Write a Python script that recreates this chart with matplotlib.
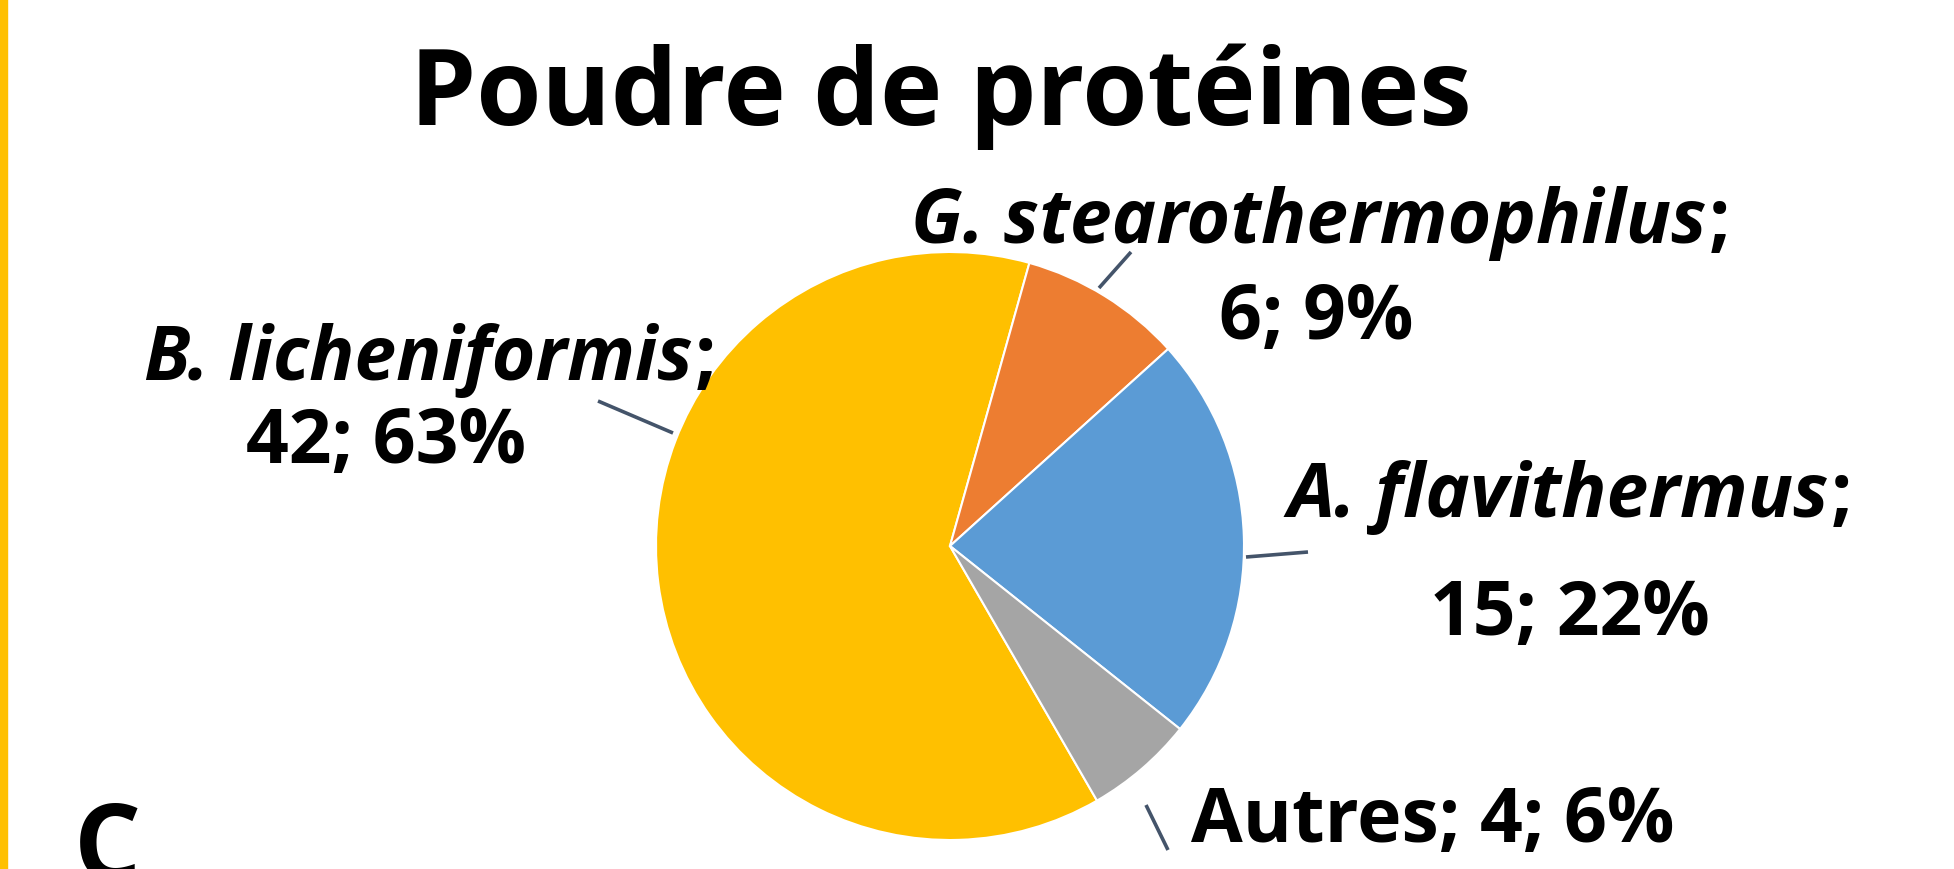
import matplotlib
matplotlib.use('Agg')
import matplotlib.pyplot as plt

# chart data
names = ['B. licheniformis', 'G. stearothermophilus', 'A. flavithermus', 'Autres']
counts = [42, 6, 15, 4]
colors = ['#FFC000', '#ED7D31', '#5B9BD5', '#A5A5A5']
title = 'Poudre de protéines'

total = sum(counts)
pcts = [round(100 * c / total) for c in counts]

W, H = 1954, 870
plt.rcParams['font.family'] = ['Open Sans', 'DejaVu Sans']

fig = plt.figure(figsize=(W / 100, H / 100), dpi=100)
ax = fig.add_axes([0, 0, 1, 1])


def yy(y):
    # image row -> data y (y up)
    return H - y


ax.pie(counts, colors=colors, startangle=-60, counterclock=False,
       center=(950, yy(547)), radius=294,
       wedgeprops=dict(edgecolor='white', linewidth=1.5))
ax.set_xlim(0, W)
ax.set_ylim(0, H)
ax.set_aspect('auto')
ax.axis('off')

ax.text(941, yy(125), title, ha='center', va='baseline',
        fontsize=76, fontweight='bold')

fig.canvas.draw()
renderer = fig.canvas.get_renderer()
lsize = 54


def name_line(xc, y, name, suffix=';'):
    # italic species name followed by an upright ';', centred on xc
    t = ax.text(0, yy(y), name, ha='left', va='baseline', fontsize=lsize,
                fontweight='bold', fontstyle='italic')
    s = ax.text(0, yy(y), suffix, ha='left', va='baseline',
                fontsize=lsize, fontweight='bold')
    w1 = t.get_window_extent(renderer).width
    w2 = s.get_window_extent(renderer).width
    x0 = xc - (w1 + w2 + 2) / 2
    t.set_x(x0)
    s.set_x(x0 + w1 + 2)


def value_line(xc, y, text):
    ax.text(xc, yy(y), text, ha='center', va='baseline', fontsize=lsize,
            fontweight='bold')


name_line(1321, 243, names[1])
value_line(1316, 339, f'{counts[1]}; {pcts[1]}%')

name_line(430, 380, names[0])
value_line(386, 463, f'{counts[0]}; {pcts[0]}%')

name_line(1570, 517, names[2])
value_line(1570, 635, f'{counts[2]}; {pcts[2]}%')

value_line(1433, 842, f'{names[3]}; {counts[3]}; {pcts[3]}%')

# leader lines
leaders = [((1099, 289), (1131, 253)),
           ((598, 402), (673, 434)),
           ((1246, 558), (1308, 553)),
           ((1146, 806), (1168, 851))]
for (x0, y0), (x1, y1) in leaders:
    ax.plot([x0, x1], [yy(y0), yy(y1)], color='#44546A', lw=2.6,
            solid_capstyle='butt')

# panel letter (cut by the bottom edge) and left border
ax.text(74, yy(880), 'C', ha='left', va='baseline', fontsize=76,
        fontweight='bold')
ax.axvspan(0, 7, color='#FFC000')

fig.savefig('out.png', dpi=100)
